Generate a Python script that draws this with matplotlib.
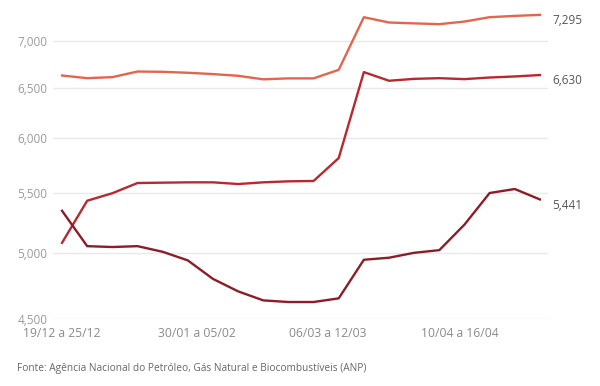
import matplotlib
matplotlib.use('Agg')
import matplotlib.pyplot as plt
from matplotlib.ticker import FixedLocator, FuncFormatter, NullLocator

# weekly average prices, R$ per litre
semanas = list(range(20))
gasolina = [6.625, 6.597, 6.608, 6.667, 6.664, 6.654, 6.640, 6.622, 6.585, 6.595,
            6.595, 6.685, 7.268, 7.207, 7.197, 7.188, 7.218, 7.268, 7.283, 7.295]
diesel = [5.079, 5.430, 5.495, 5.585, 5.588, 5.591, 5.591, 5.576, 5.591, 5.600,
          5.603, 5.811, 6.661, 6.570, 6.590, 6.597, 6.587, 6.604, 6.615, 6.630]
etanol = [5.344, 5.052, 5.045, 5.052, 5.007, 4.939, 4.796, 4.702, 4.635, 4.623,
          4.623, 4.650, 4.944, 4.960, 4.999, 5.020, 5.228, 5.497, 5.532, 5.441]

x_labels = ['19/12 a 25/12', '30/01 a 05/02', '06/03 a 12/03', '10/04 a 16/04']
x_label_pos = [0, 5.35, 10.55, 15.8]
y_ticks = [4.5, 5.0, 5.5, 6.0, 6.5, 7.0]

fonte = 'Fonte: Agência Nacional do Petróleo, Gás Natural e Biocombustíveis (ANP)'

plt.rcParams['font.family'] = ['Open Sans', 'DejaVu Sans']


def fmt_br(v, pos=None):
    return f'{v:.3f}'.replace('.', ',')


fig = plt.figure(figsize=(6, 3.86), dpi=100)
ax = fig.add_axes([0.0883, 0.1736, 0.825, 0.8134])

series = [(gasolina, '#e5654c'), (diesel, '#b8292f'), (etanol, '#8c1d27')]
for values, color in series:
    ax.plot(semanas, values, color=color, lw=1.7, solid_joinstyle='round', zorder=3)
    ax.annotate(fmt_br(values[-1]), xy=(semanas[-1], values[-1]), xytext=(9, -4),
                textcoords='offset points', ha='left', va='center',
                fontsize=8.5, color='#555555', annotation_clip=False)

ax.set_yscale('log')
ax.set_ylim(4.5, 7.41)
ax.set_xlim(-0.36, 19.32)
ax.yaxis.set_major_locator(FixedLocator(y_ticks))
ax.yaxis.set_major_formatter(FuncFormatter(fmt_br))
ax.yaxis.set_minor_locator(NullLocator())
ax.set_xticks(x_label_pos)
ax.set_xticklabels(x_labels)

ax.grid(axis='y', color='#e9e9e9', lw=1)
ax.set_axisbelow(True)
for s in ax.spines.values():
    s.set_visible(False)
ax.tick_params(axis='y', length=0, pad=4, labelsize=8.5, labelcolor='#9a9a9a')
ax.tick_params(axis='x', length=0, pad=6, labelsize=8.7, labelcolor='#8a8a8a')

fig.text(0.028, 0.046, fonte, fontsize=7.3, color='#666666', va='center')

fig.savefig('out.png', dpi=100)
